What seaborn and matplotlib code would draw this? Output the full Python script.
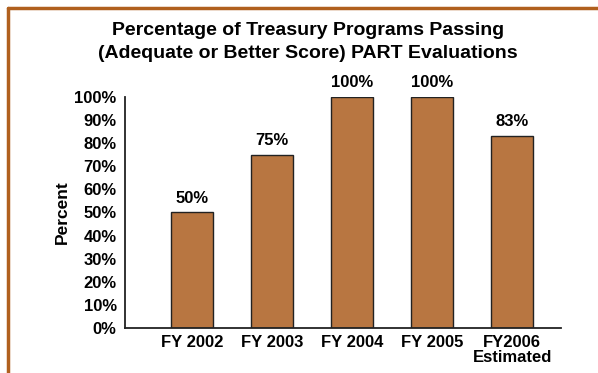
import matplotlib
matplotlib.use("Agg")
import matplotlib.pyplot as plt
from matplotlib.lines import Line2D
import pandas as pd
import seaborn as sns

# Chart data
years = ["FY 2002", "FY 2003", "FY 2004", "FY 2005", "FY2006\nEstimated"]
passing = [50, 75, 100, 100, 83]
yticks = [0, 10, 20, 30, 40, 50, 60, 70, 80, 90, 100]

bar_color = "#B87641"
frame_color = "#B0601E"

sns.set_style("white")
plt.rcParams['font.family'] = ['Liberation Sans', 'DejaVu Sans']
plt.rcParams['font.weight'] = 'bold'
plt.rcParams['text.color'] = 'black'
plt.rcParams['xtick.color'] = 'black'
plt.rcParams['ytick.color'] = 'black'
plt.rcParams['axes.labelcolor'] = 'black'

df = pd.DataFrame({"year": years, "pct": passing})

fig = plt.figure(figsize=(5.98, 3.73), dpi=100)
ax = fig.add_axes([0.209, 0.1206, 0.729, 0.6194])

sns.barplot(data=df, x="year", y="pct", color=bar_color, saturation=1,
            width=0.52, edgecolor="#222222", linewidth=1, ax=ax)

ax.set_ylim(0, 100)
ax.set_xlim(-0.84, 4.61)
ax.set_yticks(yticks)
ax.set_yticklabels([f"{v}%" for v in yticks], fontsize=12, fontweight='bold')
ax.tick_params(axis='y', direction='in', length=11, width=1.3, color='#222222', pad=6)
ax.tick_params(axis='x', length=0, labelsize=12, pad=5)
for lbl in ax.get_xticklabels():
    lbl.set_fontweight('bold')
    lbl.set_linespacing(1.0)

# small tick at the right end of the x axis
ax.set_xticks([4.61], minor=True)
ax.tick_params(axis='x', which='minor', direction='in', length=4, width=1.3, color='#222222')

for side in ["top", "right"]:
    ax.spines[side].set_visible(False)
for side in ["left", "bottom"]:
    ax.spines[side].set_color('#222222')
    ax.spines[side].set_linewidth(1.3)

ax.set_xlabel("")
ax.set_ylabel("Percent", fontsize=12.5, fontweight='bold', labelpad=3)

# value labels on the bars
for i, v in enumerate(passing):
    ax.text(i, v + 3, f"{v}%", ha='center', va='bottom', fontsize=12, fontweight='bold')

fig.text(0.515, 0.888, "Percentage of Treasury Programs Passing\n(Adequate or Better Score) PART Evaluations",
         ha='center', va='center', fontsize=14, fontweight='bold', linespacing=1.45)

# brown frame along the top and left edges
fig.add_artist(Line2D([8 / 598, 1], [1 - 8 / 373, 1 - 8 / 373], color=frame_color, lw=2.5,
                      transform=fig.transFigure))
fig.add_artist(Line2D([8 / 598, 8 / 598], [0, 1 - 8 / 373], color=frame_color, lw=2.5,
                      transform=fig.transFigure))

fig.savefig("out.png", dpi=100)
